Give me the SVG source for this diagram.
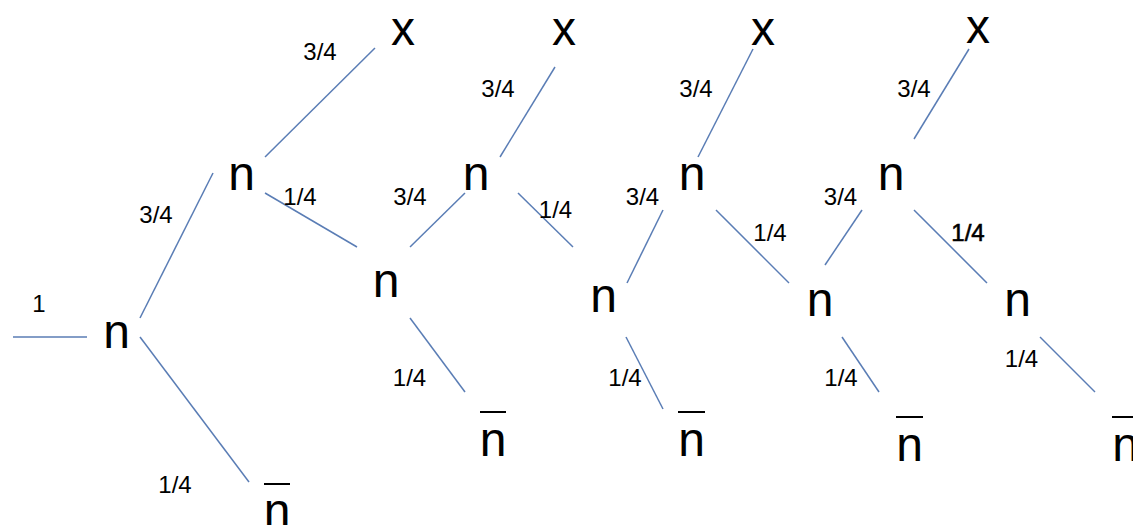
<svg xmlns="http://www.w3.org/2000/svg" width="1133" height="525" viewBox="0 0 1133 525">
<style>
.node{font-family:"Liberation Sans",Arial,sans-serif;font-size:48px;fill:#000;text-anchor:middle}
.lbl{font-family:"Liberation Sans",Arial,sans-serif;font-size:24px;fill:#000;text-anchor:middle}
.bar{stroke:#000;stroke-width:2}
.edge line{stroke:#5a7db5;stroke-width:1.5;fill:none}
</style>
<rect width="1133" height="525" fill="#fff"/>
<g id="connectors" class="edge">
<line x1="13" y1="337" x2="87" y2="337"/>
<line x1="140" y1="318" x2="213" y2="173"/>
<line x1="140" y1="337" x2="249" y2="482"/>
<line x1="265" y1="157" x2="375" y2="48"/>
<line x1="265" y1="193" x2="357" y2="247"/>
<line x1="410" y1="247" x2="465" y2="193"/>
<line x1="500" y1="157" x2="555" y2="67"/>
<line x1="518" y1="193" x2="573" y2="247"/>
<line x1="410" y1="318" x2="465" y2="392"/>
<line x1="627" y1="283" x2="663" y2="210"/>
<line x1="626" y1="337" x2="663" y2="409"/>
<line x1="698" y1="157" x2="753" y2="49"/>
<line x1="716" y1="210" x2="789" y2="283"/>
<line x1="825" y1="265" x2="862" y2="210"/>
<line x1="914" y1="139" x2="969" y2="49"/>
<line x1="914" y1="210" x2="987" y2="283"/>
<line x1="842" y1="337" x2="879" y2="392"/>
<line x1="1040" y1="337" x2="1095" y2="392"/>
</g>
<g id="labels">
<text class="lbl" x="39" y="312">1</text>
<text class="lbl" x="156" y="223">3/4</text>
<text class="lbl" x="175" y="493">1/4</text>
<text class="lbl" x="320" y="60">3/4</text>
<text class="lbl" x="300" y="205">1/4</text>
<text class="lbl" x="410" y="205">3/4</text>
<text class="lbl" x="498" y="97">3/4</text>
<text class="lbl" x="555.5" y="218">1/4</text>
<text class="lbl" x="409.5" y="386">1/4</text>
<text class="lbl" x="625" y="386">1/4</text>
<text class="lbl" x="696" y="97">3/4</text>
<text class="lbl" x="642.5" y="205">3/4</text>
<text class="lbl" x="770" y="241">1/4</text>
<text class="lbl" x="840.5" y="205">3/4</text>
<text class="lbl" x="914" y="97">3/4</text>
<text class="lbl" x="968" y="241" stroke="#000" stroke-width="0.6">1/4</text>
<text class="lbl" x="841" y="386">1/4</text>
<text class="lbl" x="1021.5" y="367">1/4</text>
</g>
<g id="n0"><text class="node" x="116.5" y="348">n</text></g>
<g id="n1"><text class="node" x="241.5" y="190">n</text></g>
<g id="n2"><text class="node" x="386" y="297">n</text></g>
<g id="n3"><text class="node" x="476" y="190">n</text></g>
<g id="n4"><text class="node" x="603.5" y="312">n</text></g>
<g id="n5"><text class="node" x="692" y="190">n</text></g>
<g id="n6"><text class="node" x="820" y="316">n</text></g>
<g id="n7"><text class="node" x="891" y="190">n</text></g>
<g id="n8"><text class="node" x="1017.5" y="316">n</text></g>
<g id="x1"><text class="node" x="403" y="45">x</text></g>
<g id="x2"><text class="node" x="564" y="45">x</text></g>
<g id="x3"><text class="node" x="763" y="45">x</text></g>
<g id="x4"><text class="node" x="978" y="43">x</text></g>
<g id="nbar0"><line class="bar" x1="264" y1="484" x2="290" y2="484"/><text class="node" x="277" y="527">n</text></g>
<g id="nbar2"><line class="bar" x1="480" y1="412" x2="506" y2="412"/><text class="node" x="493" y="456">n</text></g>
<g id="nbar4"><line class="bar" x1="678" y1="412" x2="705" y2="412"/><text class="node" x="691.5" y="456">n</text></g>
<g id="nbar6"><line class="bar" x1="896" y1="417" x2="923" y2="417"/><text class="node" x="909.5" y="461">n</text></g>
<g id="nbar8"><line class="bar" x1="1112" y1="417" x2="1139" y2="417"/><text class="node" x="1125.5" y="461">n</text></g>
</svg>
